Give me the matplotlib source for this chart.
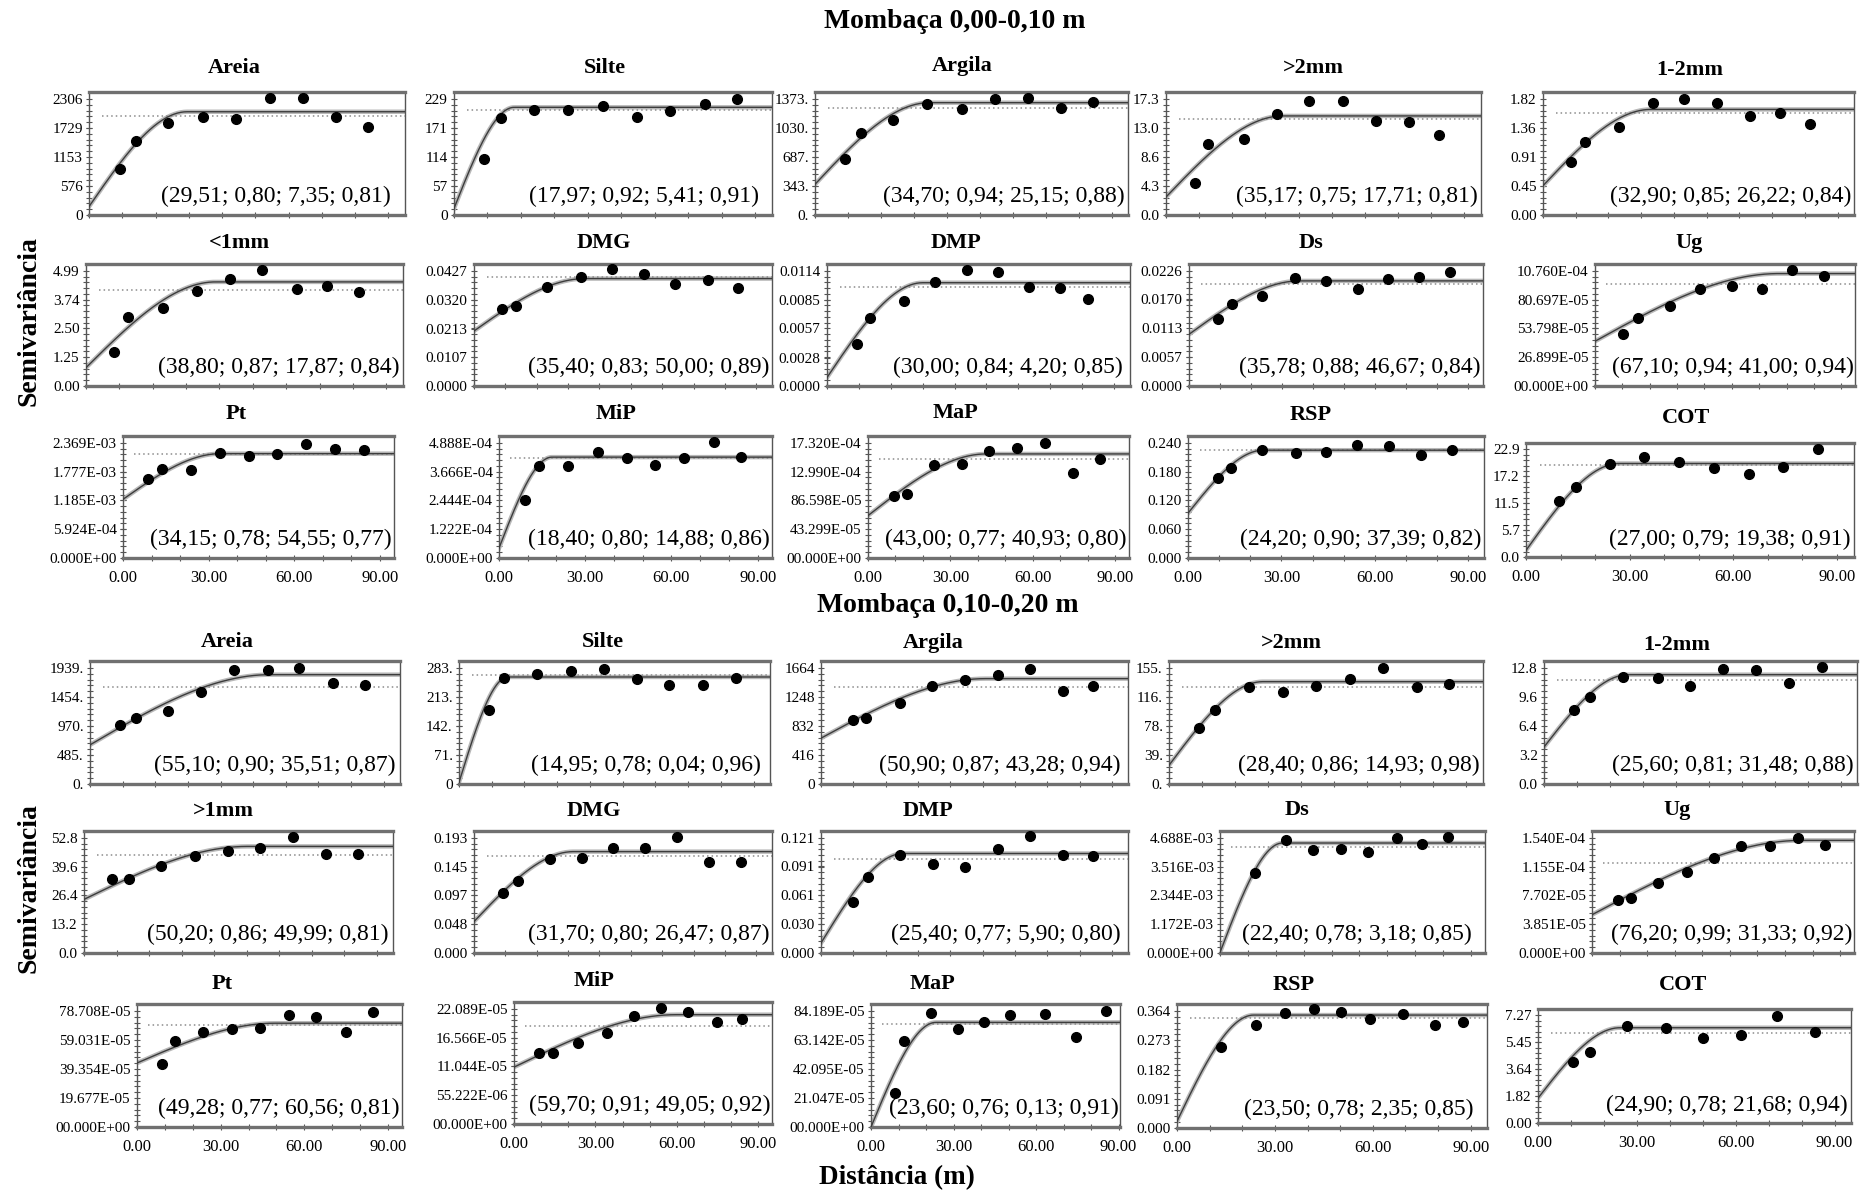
import numpy as np
import matplotlib.pyplot as plt
from matplotlib.ticker import FixedLocator, MultipleLocator

plt.rcParams['font.family'] = ['Liberation Serif', 'DejaVu Serif']

# ---- Mombaça 0,00-0,10 m ----
titles_1 = ['Areia', 'Silte', 'Argila', '>2mm', '1-2mm',
            '<1mm', 'DMG', 'DMP', 'Ds', 'Ug',
            'Pt', 'MiP', 'MaP', 'RSP', 'COT']
# (alcance; ...; ...; R²) printed on each panel
stats_1 = [('29,51', '0,80', '7,35', '0,81'), ('17,97', '0,92', '5,41', '0,91'),
           ('34,70', '0,94', '25,15', '0,88'), ('35,17', '0,75', '17,71', '0,81'),
           ('32,90', '0,85', '26,22', '0,84'), ('38,80', '0,87', '17,87', '0,84'),
           ('35,40', '0,83', '50,00', '0,89'), ('30,00', '0,84', '4,20', '0,85'),
           ('35,78', '0,88', '46,67', '0,84'), ('67,10', '0,94', '41,00', '0,94'),
           ('34,15', '0,78', '54,55', '0,77'), ('18,40', '0,80', '14,88', '0,86'),
           ('43,00', '0,77', '40,93', '0,80'), ('24,20', '0,90', '37,39', '0,82'),
           ('27,00', '0,79', '19,38', '0,91')]
yticks_1 = [['0', '576', '1153', '1729', '2306'],
            ['0', '57', '114', '171', '229'],
            ['0.', '343.', '687.', '1030.', '1373.'],
            ['0.0', '4.3', '8.6', '13.0', '17.3'],
            ['0.00', '0.45', '0.91', '1.36', '1.82'],
            ['0.00', '1.25', '2.50', '3.74', '4.99'],
            ['0.0000', '0.0107', '0.0213', '0.0320', '0.0427'],
            ['0.0000', '0.0028', '0.0057', '0.0085', '0.0114'],
            ['0.0000', '0.0057', '0.0113', '0.0170', '0.0226'],
            ['00.000E+00', '26.899E-05', '53.798E-05', '80.697E-05', '10.760E-04'],
            ['0.000E+00', '5.924E-04', '1.185E-03', '1.777E-03', '2.369E-03'],
            ['0.000E+00', '1.222E-04', '2.444E-04', '3.666E-04', '4.888E-04'],
            ['00.000E+00', '43.299E-05', '86.598E-05', '12.990E-04', '17.320E-04'],
            ['0.000', '0.060', '0.120', '0.180', '0.240'],
            ['0.0', '5.7', '11.5', '17.2', '22.9']]
lags_1 = [[9.4, 14.2, 23.8, 34.3, 44.2, 54.4, 64.4, 74.3, 84.0],
          [9.1, 14.0, 23.8, 34.2, 44.4, 54.7, 64.5, 74.9, 84.4],
          [9.1, 14.0, 23.7, 34.1, 44.6, 54.7, 64.6, 74.8, 84.3],
          [8.7, 12.7, 23.6, 33.6, 43.2, 53.4, 63.4, 73.2, 82.3],
          [8.6, 12.9, 23.3, 33.5, 43.2, 53.3, 63.2, 72.4, 81.6],
          [8.4, 12.6, 23.2, 33.2, 43.1, 52.8, 63.2, 72.2, 81.7],
          [8.8, 13.4, 23.3, 34.0, 44.0, 54.1, 64.2, 74.6, 84.1],
          [9.5, 13.6, 24.0, 34.0, 44.0, 53.6, 63.4, 72.9, 81.7],
          [9.3, 14.0, 23.6, 34.3, 44.2, 54.5, 64.3, 74.4, 84.3],
          [10.3, 15.8, 27.5, 38.5, 50.1, 61.1, 72.1, 83.6],
          [8.8, 13.7, 23.7, 34.0, 44.1, 54.0, 64.1, 74.2, 84.5],
          [9.2, 14.0, 23.9, 34.3, 44.4, 54.4, 64.4, 74.7, 84.3],
          [9.4, 14.2, 24.0, 34.3, 44.2, 54.4, 64.3, 74.5, 84.6],
          [9.5, 13.9, 23.7, 34.6, 44.4, 54.4, 64.5, 74.7, 84.8],
          [9.6, 14.5, 24.4, 34.3, 44.4, 54.5, 64.5, 74.4, 84.5]]
gamma_1 = [[916, 1471, 1838, 1952, 1905, 2320, 2333, 1952, 1751],
           [111, 191, 207, 207, 215, 194, 205, 220, 228],
           [663, 974, 1124, 1310, 1250, 1369, 1381, 1270, 1341],
           [4.78, 10.57, 11.35, 15.0, 17.06, 17.06, 13.99, 13.89, 11.94],
           [0.839, 1.145, 1.382, 1.751, 1.814, 1.751, 1.551, 1.593, 1.424],
           [1.475, 3.008, 3.399, 4.122, 4.657, 5.033, 4.194, 4.339, 4.079],
           [0.02871, 0.02970, 0.03688, 0.04059, 0.04332, 0.04146, 0.03800, 0.03923, 0.03651],
           [0.00412, 0.00671, 0.00845, 0.01029, 0.01147, 0.01133, 0.00979, 0.00972, 0.00862],
           [0.01323, 0.01605, 0.01769, 0.02129, 0.02064, 0.01900, 0.02096, 0.02142, 0.02247],
           [4.87e-4, 6.33e-4, 7.50e-4, 9.08e-4, 9.34e-4, 9.08e-4, 1.089e-3, 1.029e-3],
           [1.631e-3, 1.832e-3, 1.812e-3, 2.161e-3, 2.094e-3, 2.148e-3, 2.349e-3, 2.248e-3, 2.215e-3],
           [2.458e-4, 3.905e-4, 3.905e-4, 4.495e-4, 4.256e-4, 3.961e-4, 4.256e-4, 4.916e-4, 4.284e-4],
           [9.39e-4, 9.69e-4, 1.396e-3, 1.416e-3, 1.607e-3, 1.657e-3, 1.732e-3, 1.280e-3, 1.491e-3],
           [0.166, 0.187, 0.226, 0.218, 0.221, 0.235, 0.233, 0.214, 0.225],
           [11.88, 14.94, 19.70, 21.34, 20.27, 18.85, 17.64, 19.20, 22.90]]
nugget_1 = [167, 13, 363, 2.68, 0.459, 0.795, 0.02042, 0.00084, 0.01015, 4.18e-4,
            1.208e-3, 4.2e-5, 6.38e-4, 0.0934, 1.42]
sill_1 = [2052, 212.5, 1329, 14.77, 1.656, 4.513, 0.03985, 0.01023, 0.02064, 1.051e-3,
          2.148e-3, 4.284e-4, 1.566e-3, 0.2248, 19.91]
variance_1 = [1958, 207, 1270, 14.28, 1.603, 4.151, 0.04047, 0.00979, 0.01998, 9.56e-4,
              2.134e-3, 4.256e-4, 1.491e-3, 0.226, 19.56]

# ---- Mombaça 0,10-0,20 m ----
titles_2 = ['Areia', 'Silte', 'Argila', '>2mm', '1-2mm',
            '>1mm', 'DMG', 'DMP', 'Ds', 'Ug',
            'Pt', 'MiP', 'MaP', 'RSP', 'COT']
stats_2 = [('55,10', '0,90', '35,51', '0,87'), ('14,95', '0,78', '0,04', '0,96'),
           ('50,90', '0,87', '43,28', '0,94'), ('28,40', '0,86', '14,93', '0,98'),
           ('25,60', '0,81', '31,48', '0,88'), ('50,20', '0,86', '49,99', '0,81'),
           ('31,70', '0,80', '26,47', '0,87'), ('25,40', '0,77', '5,90', '0,80'),
           ('22,40', '0,78', '3,18', '0,85'), ('76,20', '0,99', '31,33', '0,92'),
           ('49,28', '0,77', '60,56', '0,81'), ('59,70', '0,91', '49,05', '0,92'),
           ('23,60', '0,76', '0,13', '0,91'), ('23,50', '0,78', '2,35', '0,85'),
           ('24,90', '0,78', '21,68', '0,94')]
yticks_2 = [['0.', '485.', '970.', '1454.', '1939.'],
            ['0', '71.', '142.', '213.', '283.'],
            ['0', '416', '832', '1248', '1664'],
            ['0.', '39.', '78.', '116.', '155.'],
            ['0.0', '3.2', '6.4', '9.6', '12.8'],
            ['0.0', '13.2', '26.4', '39.6', '52.8'],
            ['0.000', '0.048', '0.097', '0.145', '0.193'],
            ['0.000', '0.030', '0.061', '0.091', '0.121'],
            ['0.000E+00', '1.172E-03', '2.344E-03', '3.516E-03', '4.688E-03'],
            ['0.000E+00', '3.851E-05', '7.702E-05', '1.155E-04', '1.540E-04'],
            ['00.000E+00', '19.677E-05', '39.354E-05', '59.031E-05', '78.708E-05'],
            ['00.000E+00', '55.222E-06', '11.044E-05', '16.566E-05', '22.089E-05'],
            ['00.000E+00', '21.047E-05', '42.095E-05', '63.142E-05', '84.189E-05'],
            ['0.000', '0.091', '0.182', '0.273', '0.364'],
            ['0.00', '1.82', '3.64', '5.45', '7.27']]
lags_2 = [[9.2, 14.1, 23.9, 34.0, 44.1, 54.6, 63.9, 74.4, 84.2],
          [9.1, 13.7, 23.7, 34.2, 44.2, 54.4, 64.3, 74.5, 84.6],
          [9.8, 14.0, 24.3, 34.5, 44.6, 54.7, 64.6, 74.9, 84.2],
          [9.1, 14.0, 24.3, 34.6, 44.5, 54.7, 64.7, 74.9, 84.8],
          [9.1, 14.1, 24.1, 34.7, 44.4, 54.4, 64.3, 74.4, 84.4],
          [8.7, 13.8, 23.6, 34.1, 44.3, 54.1, 64.2, 74.4, 84.3],
          [9.2, 14.1, 24.3, 34.4, 44.4, 54.5, 64.6, 75.0, 85.1],
          [9.8, 14.4, 24.3, 34.8, 44.6, 54.7, 64.6, 74.9, 84.2],
          [12.5, 23.5, 33.5, 43.4, 53.1, 63.3, 72.5, 81.6],
          [9.4, 14.2, 24.0, 34.3, 44.3, 54.2, 64.4, 74.7, 84.5],
          [9.0, 13.8, 23.6, 34.2, 44.1, 54.6, 64.3, 74.8, 84.7],
          [9.3, 14.2, 23.7, 34.1, 44.1, 54.0, 64.2, 74.6, 84.1],
          [8.7, 12.0, 21.8, 31.7, 41.2, 50.4, 63.1, 74.4, 85.4],
          [13.4, 24.2, 33.1, 41.9, 50.3, 59.2, 69.3, 79.1, 87.5],
          [10.6, 15.9, 26.9, 38.7, 50.2, 61.6, 72.5, 84.0]]
gamma_2 = [[978, 1101, 1223, 1536, 1899, 1911, 1939, 1687, 1659],
           [181, 259, 269, 275, 281, 255, 241, 241, 259],
           [911, 945, 1161, 1400, 1487, 1568, 1650, 1329, 1410],
           [74.3, 98.9, 129.9, 123.1, 130.8, 140.4, 155.0, 129.9, 133.5],
           [8.16, 9.57, 11.76, 11.69, 10.83, 12.69, 12.54, 11.13, 12.91],
           [34.1, 34.1, 39.9, 44.5, 46.6, 48.2, 53.3, 45.6, 45.6],
           [0.1003, 0.1202, 0.1569, 0.1587, 0.1758, 0.1758, 0.1947, 0.1528, 0.1528],
           [0.0541, 0.0802, 0.1035, 0.0935, 0.0900, 0.1092, 0.1228, 0.1029, 0.1022],
           [3.261e-3, 4.619e-3, 4.183e-3, 4.240e-3, 4.117e-3, 4.688e-3, 4.443e-3, 4.712e-3],
           [7.06e-5, 7.39e-5, 9.42e-5, 1.086e-4, 1.268e-4, 1.426e-4, 1.426e-4, 1.544e-4, 1.449e-4],
           [4.273e-4, 5.847e-4, 6.432e-4, 6.634e-4, 6.746e-4, 7.601e-4, 7.489e-4, 6.432e-4, 7.826e-4],
           [1.371e-4, 1.364e-4, 1.546e-4, 1.754e-4, 2.066e-4, 2.228e-4, 2.144e-4, 1.956e-4, 2.021e-4],
           [2.463e-4, 6.232e-4, 8.243e-4, 7.112e-4, 7.59e-4, 8.092e-4, 8.168e-4, 6.534e-4, 8.419e-4],
           [0.2518, 0.322, 0.3567, 0.3703, 0.3619, 0.3388, 0.3535, 0.3199, 0.3304],
           [4.14, 4.81, 6.55, 6.42, 5.75, 5.97, 7.23, 6.15]]
nugget_2 = [654, 4, 657, 25, 4.08, 24.6, 0.0527, 0.0105, 2e-5, 5.12e-5,
            4.34e-4, 1.091e-4, 0.0, 0.021, 1.68]
sill_2 = [1827, 261, 1511, 136.7, 12.06, 48.9, 0.170, 0.1046, 4.48e-3, 1.507e-4,
          7.04e-4, 2.098e-4, 7.59e-4, 0.3514, 6.44]
variance_2 = [1620, 265, 1386, 129, 11.5, 44.8, 0.1626, 0.0983, 4.305e-3, 1.205e-4,
              6.93e-4, 1.884e-4, 7.5e-4, 0.341, 6.11]

xtick_vals = [0, 30, 60, 90]
xtick_text = ['0.00', '30.00', '60.00', '90.00']

# panel frames in pixels: (left, right, top, bottom)
boxes_1 = [(89, 405, 92, 215), (454, 772, 92, 215), (815, 1128, 92, 215),
           (1166, 1481, 92, 215), (1543, 1854, 92, 215),
           (86, 403, 264, 386), (474, 772, 264, 386), (827, 1130, 264, 386),
           (1189, 1483, 264, 386), (1595, 1855, 264, 386),
           (123, 394, 436, 558), (499, 772, 436, 558), (868, 1129, 436, 558),
           (1188, 1484, 436, 558), (1526, 1854, 443, 557)]
boxes_2 = [(90, 400, 661, 784), (459, 770, 661, 784), (821, 1128, 661, 784),
           (1169, 1483, 661, 784), (1544, 1857, 661, 784),
           (84, 393, 831, 953), (474, 772, 831, 953), (821, 1128, 831, 953),
           (1220, 1485, 831, 953), (1592, 1854, 831, 953),
           (137, 402, 1004, 1127), (514, 772, 1002, 1124), (871, 1120, 1004, 1127),
           (1177, 1487, 1004, 1128), (1538, 1851, 1009, 1123)]
title_pos_1 = [(234, 68), (605, 68), (962, 66), (1313, 68), (1690, 70),
               (239, 243), (604, 243), (956, 243), (1311, 243), (1689, 243),
               (236, 414), (616, 414), (955, 413), (1311, 415), (1686, 418)]
title_pos_2 = [(227, 642), (603, 642), (933, 643), (1291, 643), (1677, 645),
               (223, 811), (594, 811), (928, 811), (1297, 810), (1677, 810),
               (222, 984), (594, 981), (932, 984), (1294, 985), (1683, 985)]
# right edge of the printed statistics, as a fraction of the panel width
note_x_1 = [0.955, 0.96, 0.99, 0.99, 0.99,
            0.99, 0.99, 0.975, 0.99, 0.995,
            0.99, 0.99, 0.99, 0.99, 0.99]
note_x_2 = [0.985, 0.97, 0.975, 0.99, 0.99,
            0.985, 0.99, 0.975, 0.95, 0.995,
            0.99, 0.995, 0.995, 0.955, 0.99]
xmax_2 = [95] * 12 + [90.5, 95, 95]

W, H = 1874, 1193
fig = plt.figure(figsize=(W / 100, H / 100), dpi=100)


def spherical(h, c0, sill, a):
    g = c0 + (sill - c0) * (1.5 * h / a - 0.5 * (h / a) ** 3)
    return np.where(h < a, g, sill)


def panel(box, tpos, title, lag, gam, c0, sill, var, yt, stats, xmax, show_x, note_x):
    l, r, t, b = box
    ax = fig.add_axes([l / W, 1 - b / H, (r - l) / W, (b - t) / H])
    a = float(stats[0].replace(',', '.'))
    h = np.linspace(0, xmax, 400)
    g = spherical(h, c0, sill, a)
    ax.plot(h, g, color='#b8b8b8', lw=3.2, zorder=2)
    ax.plot(h, g, color='#3c3c3c', lw=1.0, zorder=3)
    ax.plot([4, xmax], [var, var], ls=(0, (1, 2)), color='#8c8c8c', lw=1.1, zorder=2)
    ax.plot(lag, gam, 'o', color='black', ms=7, zorder=4)

    ticks = [float(s) for s in yt]
    ax.set_xlim(0, xmax)
    ax.set_ylim(0, ticks[-1] * 1.06)
    ax.yaxis.set_major_locator(FixedLocator(ticks))
    ax.set_yticklabels(yt)
    ax.yaxis.set_minor_locator(FixedLocator(np.linspace(0, ticks[-1], 21)))
    ax.xaxis.set_major_locator(FixedLocator(xtick_vals))
    ax.xaxis.set_minor_locator(MultipleLocator(10))
    if show_x:
        ax.set_xticklabels(xtick_text)
    else:
        ax.set_xticklabels([])
    ax.tick_params(which='both', direction='inout', length=5, width=0.8,
                   color='#555555', labelsize=11, pad=2, top=False, right=False)
    ax.tick_params(axis='x', pad=6, labelsize=12)
    for side in ('top', 'bottom'):
        ax.spines[side].set_linewidth(2.4)
        ax.spines[side].set_color('#707070')
    for side in ('left', 'right'):
        ax.spines[side].set_linewidth(1.0)
        ax.spines[side].set_color('#555555')

    ax.text(note_x, 0.15, '(' + '; '.join(stats) + ')', transform=ax.transAxes,
            ha='right', va='center', fontsize=17, zorder=5)
    fig.text(tpos[0] / W, 1 - tpos[1] / H, title, ha='center', va='center',
             fontsize=16, fontweight='bold')


for i in range(15):
    panel(boxes_1[i], title_pos_1[i], titles_1[i], lags_1[i], gamma_1[i],
          nugget_1[i], sill_1[i], variance_1[i], yticks_1[i], stats_1[i], 95,
          i >= 10, note_x_1[i])
    panel(boxes_2[i], title_pos_2[i], titles_2[i], lags_2[i], gamma_2[i],
          nugget_2[i], sill_2[i], variance_2[i], yticks_2[i], stats_2[i], xmax_2[i],
          i >= 10, note_x_2[i])

fig.text(955 / W, 1 - 22 / H, 'Mombaça 0,00-0,10 m', ha='center', va='center',
         fontsize=20, fontweight='bold')
fig.text(948 / W, 1 - 605 / H, 'Mombaça 0,10-0,20 m', ha='center', va='center',
         fontsize=20, fontweight='bold')
for yc in (321, 888):
    fig.text(29 / W, 1 - yc / H, 'Semivariância', rotation=90, ha='center',
             va='center', fontsize=20, fontweight='bold')
fig.text(897 / W, 1 - 1178 / H, 'Distância (m)', ha='center', va='center',
         fontsize=19.5, fontweight='bold')

fig.savefig('out.png', dpi=100, facecolor='white')
